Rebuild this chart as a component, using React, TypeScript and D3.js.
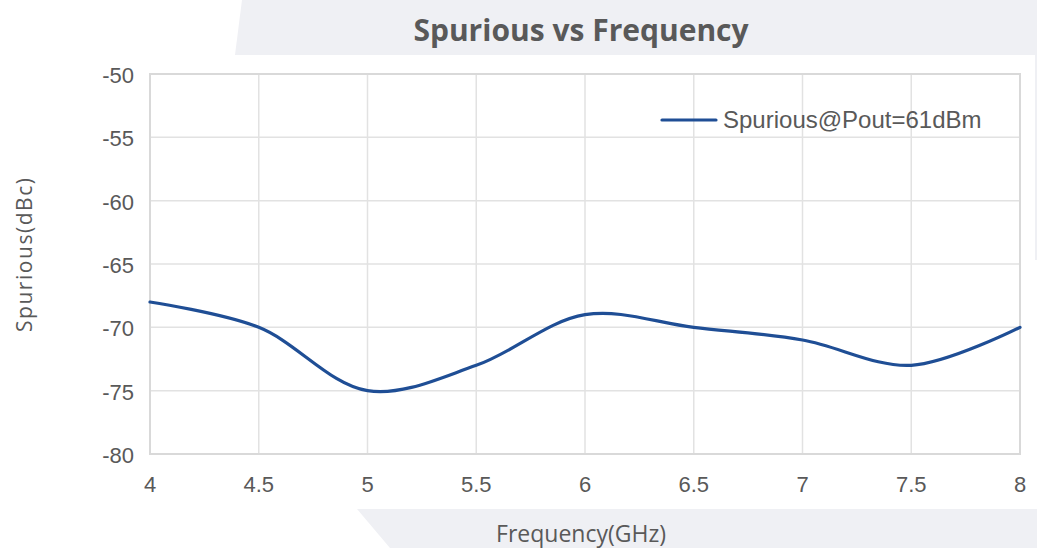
import React from 'react';
import * as d3 from 'd3';

const freqs = [4, 4.5, 5, 5.5, 6, 6.5, 7, 7.5, 8];
const spurious = [-68, -70, -75, -73, -69, -70, -71, -73, -70];
const xTicks = [4, 4.5, 5, 5.5, 6, 6.5, 7, 7.5, 8];
const yTicks = [-50, -55, -60, -65, -70, -75, -80];
const seriesName = 'Spurious@Pout=61dBm';

const W = 1037;
const H = 548;
const margin = { top: 74, right: 17, bottom: 94, left: 150 };

const App = () => {
  const x = d3.scaleLinear().domain([4, 8]).range([margin.left, W - margin.right]);
  const y = d3.scaleLinear().domain([-80, -50]).range([H - margin.bottom, margin.top]);

  const data = freqs.map((f, i) => ({ f, v: spurious[i] }));
  const line = d3
    .line<{ f: number; v: number }>()
    .x((d) => x(d.f))
    .y((d) => y(d.v))
    .curve(d3.curveCatmullRom.alpha(0.5));

  const txt = '#595959';
  const grid = '#e2e2e2';
  const band = '#eff0f4';
  const sans = 'Liberation Sans, Arial, sans-serif';

  return (
    <svg width={W} height={H} style={{ position: 'absolute', left: 0, top: 0 }}>
      <rect width={W} height={H} fill="#fff" />
      {/* faint background watermark bands */}
      <polygon points={`242,0 ${W},0 ${W},55 235,55`} fill={band} />
      <polygon points={`357,509 ${W},509 ${W},${H} 390,${H}`} fill={band} />
      <rect x={1035} y={55} width={2} height={205} fill={band} />

      {yTicks.map((t) => (
        <line key={'gy' + t} x1={x(4)} x2={x(8)} y1={y(t)} y2={y(t)} stroke={grid} strokeWidth={1.5} />
      ))}
      {xTicks.map((t) => (
        <line key={'gx' + t} x1={x(t)} x2={x(t)} y1={y(-50)} y2={y(-80)} stroke={grid} strokeWidth={1.5} />
      ))}
      <rect x={x(4)} y={y(-50)} width={x(8) - x(4)} height={y(-80) - y(-50)} fill="none" stroke="#d9d9d9" strokeWidth={2} />

      {yTicks.map((t) => (
        <text key={'ty' + t} x={134} y={y(t) + 9} textAnchor="end" fontFamily={sans} fontSize={22} fill={txt}>
          {t}
        </text>
      ))}
      {xTicks.map((t) => (
        <text key={'tx' + t} x={x(t)} y={492} textAnchor="middle" fontFamily={sans} fontSize={22} fill={txt}>
          {t}
        </text>
      ))}

      <path d={line(data) ?? ''} fill="none" stroke="#1f4e95" strokeWidth={3.2} strokeLinecap="round" />

      <line x1={662} x2={716} y1={120} y2={120} stroke="#1f4e95" strokeWidth={3.2} strokeLinecap="round" />
      <text x={723} y={128} fontFamily={sans} fontSize={24} fill={txt}>
        {seriesName}
      </text>

      <text x={581} y={41} textAnchor="middle" fontFamily="Open Sans, sans-serif" fontWeight="bold" fontSize={30} fill={txt}>
        Spurious vs Frequency
      </text>
      <text x={581} y={542} textAnchor="middle" fontFamily="Open Sans, sans-serif" fontSize={23} fill={txt}>
        Frequency(GHz)
      </text>
      <text transform="translate(32,255) rotate(-90)" textAnchor="middle" fontFamily="Open Sans, sans-serif" fontSize={21} textLength={154} lengthAdjust="spacing" fill={txt}>
        Spurious(dBc)
      </text>
    </svg>
  );
};

export default App;
